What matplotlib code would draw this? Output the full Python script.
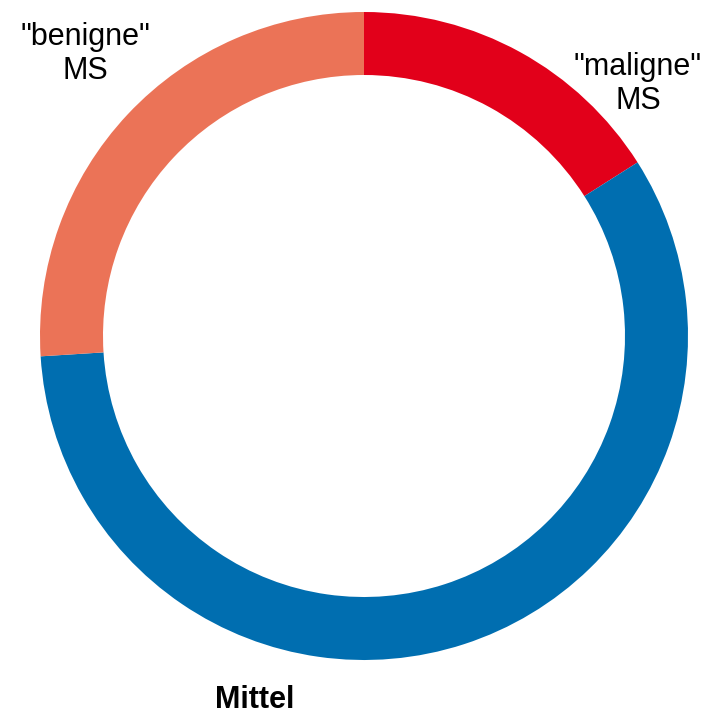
import matplotlib.pyplot as plt

plt.rcParams['font.family'] = ['Liberation Sans', 'DejaVu Sans']

# share of each group, clockwise from the top
labels = ['"maligne"\nMS', 'Mittel', '"benigne"\nMS']
shares = [16, 58, 26]
colors = ['#E2001A', '#006EB0', '#EB7357']

W, H = 709, 716
fig = plt.figure(figsize=(W / 100, H / 100), dpi=100)
ax = fig.add_axes([0, 0, 1, 1])

cx, cy, r = 364, H - 336, 324
ax.pie(shares, colors=colors, startangle=90, counterclock=False,
       center=(cx, cy), radius=r, frame=True,
       wedgeprops=dict(width=63, linewidth=0))
ax.set_xlim(0, W)
ax.set_ylim(0, H)
ax.set_aspect('equal')
ax.axis('off')

ax.text(638, H - 84, labels[0], ha='center', va='center', fontsize=22,
        linespacing=1.2)
ax.text(85, H - 54, labels[2], ha='center', va='center', fontsize=22,
        linespacing=1.2)
ax.text(255, H - 700, labels[1], ha='center', va='center', fontsize=22,
        fontweight='bold')

fig.savefig('out.png', dpi=100)
